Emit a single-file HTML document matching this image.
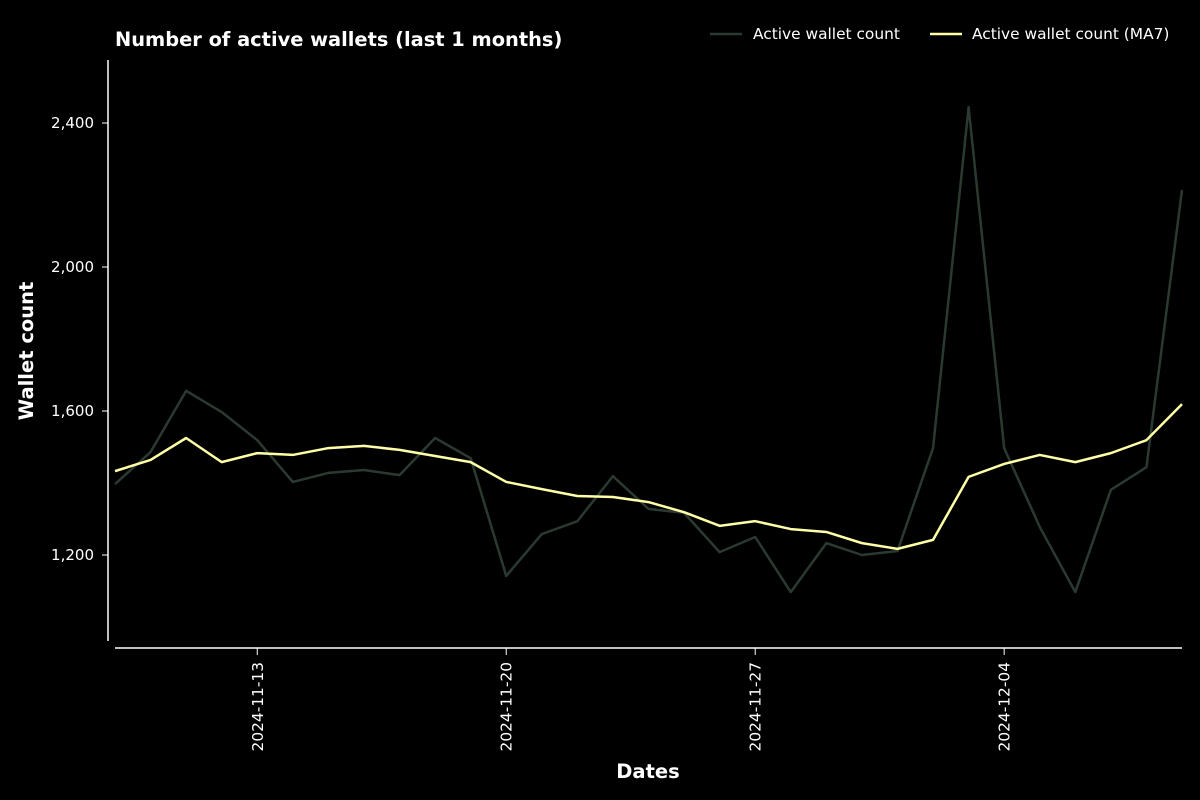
<!DOCTYPE html>
<html><head><meta charset="utf-8"><style>
html,body{margin:0;background:#000;}
svg{display:block;font-family:"DejaVu Sans","Liberation Sans",sans-serif;}
</style></head><body>
<svg id="chart" width="1200" height="800">
<rect width="1200" height="800" fill="#000"/>
<text x="115" y="46" fill="#fff" font-size="19.4" font-weight="bold">Number of active wallets (last 1 months)</text>
<g>
<g><line x1="710" y1="34" x2="742" y2="34" stroke="#2b3a31" stroke-width="2.5"/><text x="753" y="39" fill="#fff" font-size="15.4">Active wallet count</text></g>
<g><line x1="930" y1="34" x2="962" y2="34" stroke="#ffffa8" stroke-width="2.5"/><text x="972" y="39" fill="#fff" font-size="15.4">Active wallet count (MA7)</text></g>
</g>
<text transform="translate(33,351) rotate(-90)" text-anchor="middle" fill="#fff" font-size="19.5" font-weight="bold">Wallet count</text>
<text x="648" y="778" text-anchor="middle" fill="#fff" font-size="19.5" font-weight="bold">Dates</text>
<line x1="108" y1="60" x2="108" y2="641" stroke="#fff" stroke-width="1.5"/>
<line x1="115" y1="648" x2="1182" y2="648" stroke="#fff" stroke-width="1.5"/>
<g id="yt"></g><g id="xt"></g><g id="series"></g>
</svg>
<script>
const yTicks=[1200,1600,2000,2400];
const yTickLabels=["1,200","1,600","2,000","2,400"];
const xTickDates=["2024-11-13","2024-11-20","2024-11-27","2024-12-04"];
const startDate="2024-11-09";
const rawCounts=[1397,1486,1656,1597,1519,1403,1428,1436,1422,1525,1469,1142,1258,1294,1419,1328,1317,1208,1250,1097,1233,1200,1211,1497,2444,1497,1278,1097,1381,1444,2214];
const ma7Counts=[1433,1464,1525,1458,1483,1478,1497,1503,1492,1475,1458,1403,1383,1364,1361,1347,1319,1281,1294,1272,1264,1233,1217,1242,1417,1453,1478,1458,1483,1519,1619];
const NS="http://www.w3.org/2000/svg";
const day=86400000,t0=Date.parse(startDate);
function xDay(i){return 115+i*(1182-115)/30;}
function xDate(s){return xDay((Date.parse(s)-t0)/day);}
function y(v){return 555-(v-1200)*0.36;}
const yt=document.getElementById('yt');
yTicks.forEach((v,i)=>{
 const l=document.createElementNS(NS,'line');
 l.setAttribute('x1',102);l.setAttribute('x2',108);l.setAttribute('y1',y(v));l.setAttribute('y2',y(v));l.setAttribute('stroke','#fff');
 
 
 yt.appendChild(l);
 const t=document.createElementNS(NS,'text');
 t.setAttribute('x',94);t.setAttribute('y',y(v)+5);t.setAttribute('text-anchor','end');t.setAttribute('fill','#fff');t.setAttribute('font-size','15');
 t.textContent=yTickLabels[i];
 
 
 yt.appendChild(t);
});
const xt=document.getElementById('xt');
xTickDates.forEach(d=>{
 const x=xDate(d);
 const l=document.createElementNS(NS,'line');
 l.setAttribute('x1',x);l.setAttribute('x2',x);l.setAttribute('y1',648);l.setAttribute('y2',655);l.setAttribute('stroke','#fff');
 
 
 xt.appendChild(l);
 const t=document.createElementNS(NS,'text');
 t.setAttribute('transform','translate('+(x+5.5)+',662) rotate(-90)');t.setAttribute('text-anchor','end');t.setAttribute('fill','#fff');t.setAttribute('font-size','15.4');
 t.textContent=d;
 
 
 xt.appendChild(t);
});
function line(vals,color,name){
 const p=document.createElementNS(NS,'polyline');
 p.setAttribute('points',vals.map((v,i)=>xDay(i)+','+y(v)).join(' '));
 p.setAttribute('fill','none');p.setAttribute('stroke',color);p.setAttribute('stroke-width','2.5');p.setAttribute('stroke-linejoin','round');
 
 
 document.getElementById('series').appendChild(p);
}
line(rawCounts,'#2b3a31','raw-count-line');
line(ma7Counts,'#ffffa8','ma7-line');
</script>
</body></html>
